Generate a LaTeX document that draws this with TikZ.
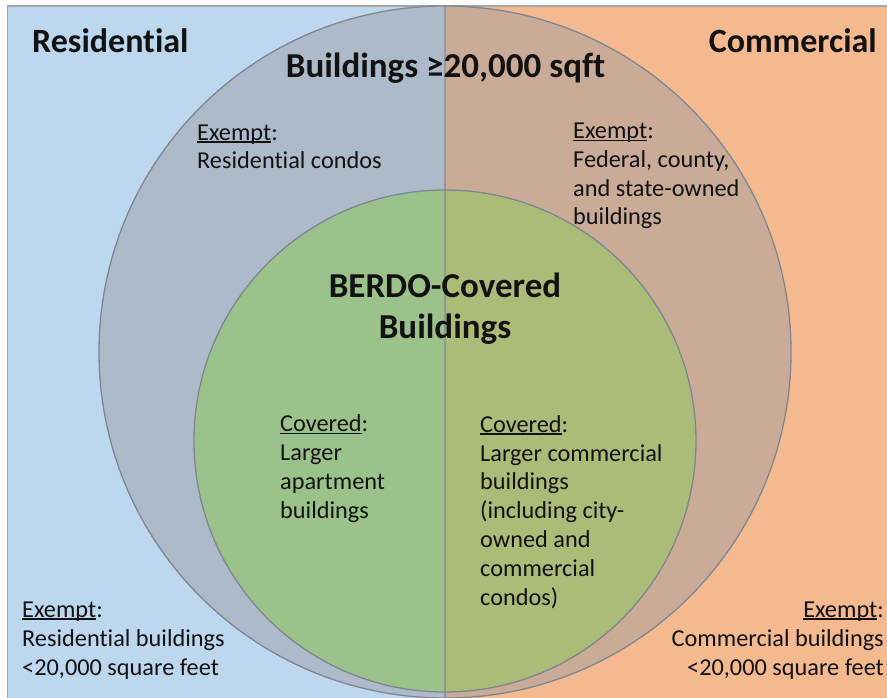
\documentclass[tikz,border=0pt]{standalone}
\usepackage{fontspec}
\setmainfont{Carlito}[Ligatures=NoCommon]
\definecolor{resbg}{HTML}{BDD7EE}
\definecolor{combg}{HTML}{F4B98E}
\definecolor{resbig}{HTML}{ADBACA}
\definecolor{combig}{HTML}{C9AB97}
\definecolor{resin}{HTML}{9BC28A}
\definecolor{comin}{HTML}{AABC78}
\definecolor{rim}{HTML}{7D8791}
\definecolor{frame}{HTML}{A6A6A6}
\definecolor{ink}{HTML}{121212}
\newcommand\ulword[1]{\leavevmode\setbox0\hbox{#1}\rlap{\rule[-0.11em]{\wd0}{0.065em}}\box0}
\tikzset{
  heading/.style={font=\fontsize{34}{40}\selectfont\bfseries, text=ink, inner sep=0pt},
  title/.style={font=\fontsize{35}{40}\selectfont\bfseries, text=ink, inner sep=0pt},
  core/.style={font=\fontsize{35}{41}\selectfont\bfseries, text=ink, inner sep=0pt, align=center},
  body/.style={font=\fontsize{24.3}{28.8}\selectfont, text=ink, inner sep=0pt},
}
\begin{document}
\begin{tikzpicture}[x=1pt,y=-1pt]
\useasboundingbox (0,0) rectangle (887,698);
% two halves of the background
\fill[resbg] (7.5,6) rectangle (445,698);
\fill[combg] (445,6) rectangle (887,698);
\draw[frame, line width=1.5pt] (7.5,698) -- (7.5,6) -- (887,6);
% circle fills, split at the middle
\begin{scope}
  \clip (0,0) rectangle (445,698);
  \fill[resbig] (445,352) circle[radius=346];
  \fill[resin] (445,441) circle[radius=251];
\end{scope}
\begin{scope}
  \clip (445,0) rectangle (887,698);
  \fill[combig] (445,352) circle[radius=346];
  \fill[comin] (445,441) circle[radius=251];
\end{scope}
% outlines and divider
\draw[rim, line width=1.3pt] (445,352) circle[radius=346];
\draw[rim, line width=1.3pt] (445,441) circle[radius=251];
\draw[rim, opacity=0.6, line width=1.5pt] (445,6) -- (445,698);
% labels (multi-line nodes sit on the baseline of their last line)
\node[heading, anchor=base west] (res) at (32,53) {Residential};
\node[heading, anchor=base east] (com) at (877,53) {Commercial};
\node[title, anchor=base] (big) at (445.5,78) {Buildings ≥20,000 sqft};
\node[core, anchor=base] (berdo) at (445,338) {BERDO-Covered\\Buildings};
\node[body, anchor=base west, align=left] (exres) at (197,169)
  {\ulword{Exempt}:\\Residential condos};
\node[body, anchor=base west, align=left] (excom) at (573,225)
  {\ulword{Exempt}:\\Federal, county,\\and state-owned\\buildings};
\node[body, anchor=base west, align=left] (covres) at (280,518)
  {\ulword{Covered}:\\Larger\\apartment\\buildings};
\node[body, anchor=base west, align=left] (covcom) at (480,605)
  {\ulword{Covered}:\\Larger commercial\\buildings\\(including city-\\owned and\\commercial\\condos)};
\node[body, anchor=base west, align=left] (smallres) at (22,675)
  {\ulword{Exempt}:\\Residential buildings\\<20,000 square feet};
\node[body, anchor=base east, align=right] (smallcom) at (884,675)
  {\ulword{Exempt}:\\Commercial buildings\\<20,000 square feet};
\end{tikzpicture}
\end{document}
